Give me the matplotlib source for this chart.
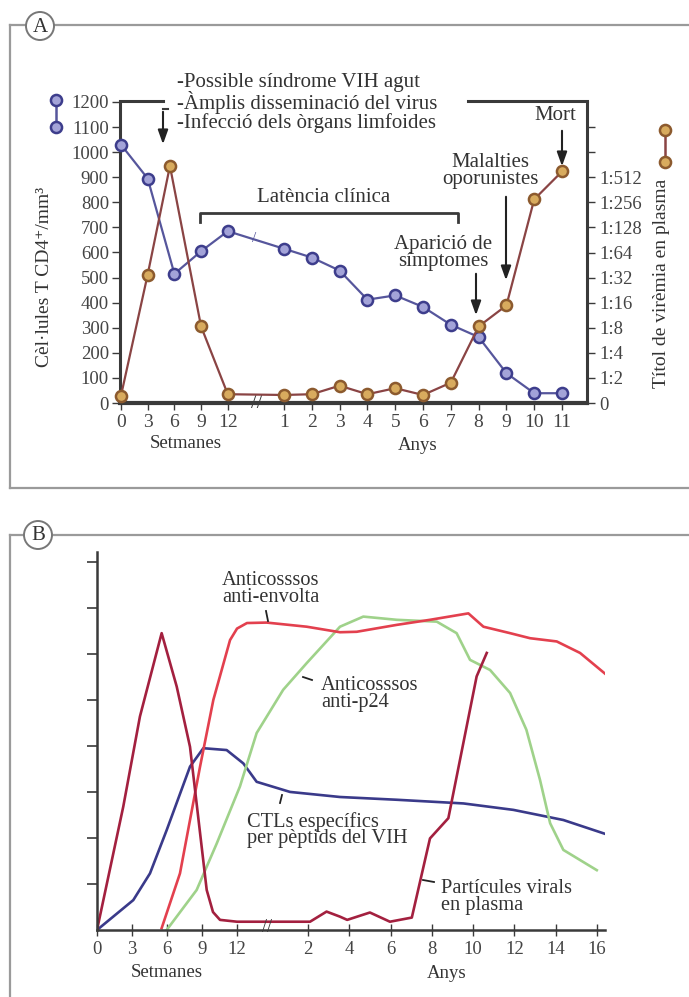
import numpy as np
import matplotlib
matplotlib.use('Agg')
import matplotlib.pyplot as plt
from matplotlib.lines import Line2D
from matplotlib.patches import Ellipse, FancyArrowPatch

plt.rcParams['font.family'] = ['Liberation Serif', 'DejaVu Serif']

# ---- Panel A data ----
a_weeks = [0, 3, 6, 9, 12]
a_years = [1, 2, 3, 4, 5, 6, 7, 8, 9, 10, 11]
cd4_weeks = [1030, 895, 515, 605, 685]
cd4_years = [615, 580, 528, 412, 429, 383, 312, 263, 119, 39, 39]
vir_weeks_x = [0, 3, 5.5, 9, 12]
vir_weeks = [0.29, 5.12, 9.45, 3.05, 0.35]          # log2 titre units
vir_years = [0.32, 0.35, 0.69, 0.35, 0.59, 0.32, 0.81, 3.05, 3.89, 8.12, 9.23]
cd4_ticks = list(range(0, 1201, 100))
vir_ticks = list(range(0, 12))
vir_labels = ['0', '1:2', '1:4', '1:8', '1:16', '1:32', '1:64', '1:128', '1:256', '1:512', '', '']

# ---- Panel B data (week part / year part) ----
b_week_ticks = [0, 3, 6, 9, 12]
b_year_ticks = [2, 4, 6, 8, 10, 12, 14, 16]
vir_b_w = [0, 2.25, 3.68, 5.54, 6.83, 7.97, 8.83, 9.4, 9.94, 10.54, 12]
vir_b_wv = [0, 2.68, 4.64, 6.45, 5.29, 3.98, 2.11, 0.87, 0.39, 0.22, 0.18]
vir_b_y = [0, 2.1, 2.9, 3.55, 3.9, 5.0, 5.97, 7.03, 7.91, 8.8, 10.17, 10.66]
vir_b_yv = [0.18, 0.18, 0.40, 0.29, 0.22, 0.38, 0.18, 0.27, 1.99, 2.43, 5.51, 6.02]
env_w = [5.54, 7.11, 8.83, 9.97, 11.4, 12.0, 12.85]
env_wv = [0.04, 1.23, 3.55, 5.0, 6.3, 6.55, 6.67]
env_y = [0, 1.94, 3.55, 4.36, 6.3, 7.91, 9.77, 10.5, 11.79, 12.76, 14.05, 15.18, 16.47]
env_yv = [6.68, 6.59, 6.47, 6.48, 6.63, 6.74, 6.88, 6.59, 6.45, 6.34, 6.27, 6.02, 5.54]
p24_w = [5.97, 8.54, 10.26, 12.25, 13.68]
p24_wv = [0, 0.87, 1.88, 3.12, 4.28]
p24_y = [0.8, 1.94, 3.55, 4.68, 6.3, 8.24, 9.2, 9.85, 10.82, 11.79, 12.58, 13.24, 13.73, 14.37, 15.99]
p24_yv = [5.22, 5.8, 6.59, 6.81, 6.74, 6.7, 6.45, 5.87, 5.65, 5.15, 4.35, 3.26, 2.32, 1.74, 1.30]
ctl_w = [0, 3.11, 4.54, 5.97, 7.97, 9.11, 11.11, 12.54, 13.68]
ctl_wv = [0, 0.65, 1.23, 2.17, 3.55, 3.95, 3.91, 3.62, 3.22]
ctl_y = [1.13, 3.55, 6.3, 9.53, 11.95, 14.37, 16.79]
ctl_yv = [3.0, 2.89, 2.83, 2.75, 2.61, 2.39, 2.03]

W, H = 689, 997


def P(px, py):
    return (px / W, 1 - py / H)


# x mapping: weeks stay as is, years are shifted after the break
def ax_a(years):
    return [15.19 + 3.124 * y for y in years]


def ax_b(years):
    return [14.54 + 1.769 * y for y in years]


fig = plt.figure(figsize=(W / 100, H / 100), dpi=100)

# ---- frames ----
grey = '#9a9a9a'
for (x0, y0, x1, y1) in [(10, 25, 689, 25), (10, 25, 10, 488), (10, 488, 689, 488),
                         (10, 535, 689, 535), (10, 535, 10, 997)]:
    fig.add_artist(Line2D([P(x0, y0)[0], P(x1, y1)[0]], [P(x0, y0)[1], P(x1, y1)[1]],
                          transform=fig.transFigure, color=grey, lw=1.6))
for lab, cx, cy in [('A', 40, 26), ('B', 38, 535)]:
    fig.add_artist(Ellipse(P(cx, cy), 28 / W, 28 / H, transform=fig.transFigure,
                           facecolor='white', edgecolor='#777777', lw=1.4, zorder=5))
    fig.text(*P(cx, cy + 1), lab, ha='center', va='center', fontsize=15, color='#333333', zorder=6)

# ================= Panel A =================
blue_line, blue_face, blue_edge = '#56569c', '#a3a3d8', '#3d3d8c'
or_line, or_face, or_edge = '#8a4444', '#d8ab5e', '#8c5a2e'
spine_c = '#3a3a3a'
lab_c = '#444444'

axA = fig.add_axes([120 / W, 1 - 403 / H, 467 / W, 301 / H])
axA.set_xlim(-0.11, 52.36)
axA.set_ylim(0, 1200)
axA.plot(a_weeks + ax_a(a_years), cd4_weeks + cd4_years, color=blue_line, lw=1.6,
         marker='o', ms=8, mfc=blue_face, mec=blue_edge, mew=1.8, zorder=4, clip_on=False)
axA.set_yticks(cd4_ticks)
axA.set_yticklabels([str(t) for t in cd4_ticks])
axA.set_xticks(a_weeks + ax_a(a_years))
axA.set_xticklabels([str(t) for t in a_weeks + a_years])
axA.spines['top'].set_visible(False)
axA.spines['right'].set_visible(False)
for s in ['left', 'bottom']:
    axA.spines[s].set_color(spine_c)
axA.spines['left'].set_linewidth(2.2)
axA.spines['bottom'].set_linewidth(3)
axA.tick_params(axis='y', direction='out', length=6, width=1, colors=spine_c,
                labelsize=13.5, labelcolor=lab_c, pad=2)
axA.tick_params(axis='x', direction='out', length=5, width=1, colors=spine_c,
                labelsize=14, labelcolor=lab_c, pad=3)
axA.patch.set_alpha(0)

axA2 = axA.twinx()
axA2.set_ylim(0, 12)
axA2.plot(vir_weeks_x + ax_a(a_years), vir_weeks + vir_years, color=or_line, lw=1.6,
          marker='o', ms=8, mfc=or_face, mec=or_edge, mew=1.8, zorder=3, clip_on=False)
axA2.set_yticks(vir_ticks)
axA2.set_yticklabels(vir_labels)
for s in ['top', 'left', 'bottom']:
    axA2.spines[s].set_visible(False)
axA2.spines['right'].set_color(spine_c)
axA2.spines['right'].set_linewidth(2.2)
axA2.tick_params(axis='y', direction='out', length=6, width=1, colors=spine_c,
                 labelsize=13.5, labelcolor=lab_c, pad=3)

# break marks
axA.text(15.2, 0, '//', ha='center', va='center', fontsize=15, color=spine_c, zorder=6)
axA.text(15.0, 655, '/', ha='center', va='center', fontsize=11, color=blue_line, zorder=6)

# top bracket lines
for (x0, x1) in [(120, 163), (468, 587)]:
    fig.add_artist(Line2D([x0 / W, x1 / W], [P(0, 101)[1]] * 2, transform=fig.transFigure,
                          color=spine_c, lw=2.2))
# latency bracket
fig.add_artist(Line2D([200 / W, 200 / W, 458 / W, 458 / W],
                      [P(0, 222)[1], P(0, 213)[1], P(0, 213)[1], P(0, 222)[1]],
                      transform=fig.transFigure, color=spine_c, lw=2))
fig.add_artist(Line2D([168 / W, 163 / W], [P(0, 109)[1]] * 2, transform=fig.transFigure,
                      color=spine_c, lw=1.5))


def arrow(x, y0, y1):
    fig.add_artist(FancyArrowPatch(P(x, y0), P(x, y1), transform=fig.transFigure,
                                   arrowstyle='-|>,head_length=0.7,head_width=0.25',
                                   mutation_scale=12, color='#222222', lw=1.5, zorder=7))


arrow(163, 109, 147)
arrow(476, 271, 318)
arrow(506, 194, 283)
arrow(562, 128, 169)

txt_c = '#333333'
fig.text(*P(177, 103), '-Possible síndrome VIH agut\n-Àmplis disseminació del virus\n-Infecció dels òrgans limfoides',
         ha='left', va='center', fontsize=15, color=txt_c, linespacing=0.95)
fig.text(*P(324, 197), 'Latència clínica', ha='center', va='center', fontsize=15, color=txt_c)
fig.text(*P(443, 253), 'Aparició de\nsímptomes', ha='center', va='center', fontsize=15,
         color=txt_c, linespacing=0.8)
fig.text(*P(490, 171), 'Malalties\noporunistes', ha='center', va='center', fontsize=15,
         color=txt_c, linespacing=0.8)
fig.text(*P(555, 115), 'Mort', ha='center', va='center', fontsize=15, color=txt_c)
fig.text(*P(186, 443), 'Setmanes', ha='center', va='center', fontsize=13.5, color=txt_c)
fig.text(*P(418, 445), 'Anys', ha='center', va='center', fontsize=13.5, color=txt_c)
fig.text(*P(45, 277), 'Cèl·lules T CD4⁺/mm³', ha='center', va='center', rotation=90,
         fontsize=14, color=txt_c)
fig.text(*P(662, 283), 'Títol de virèmia en plasma', ha='center', va='center', rotation=90,
         fontsize=14, color=txt_c)

# legend dumbbells
for (x, y0, y1, lc, fc, ec) in [(56, 100, 127, blue_line, blue_face, blue_edge),
                                (665, 130, 162, or_line, or_face, or_edge)]:
    fig.add_artist(Line2D([x / W, x / W], [P(0, y0)[1], P(0, y1)[1]], transform=fig.transFigure,
                          color=lc, lw=1.8, marker='o', ms=8, mfc=fc, mec=ec, mew=1.8))

# ================= Panel B =================
axB = fig.add_axes([97 / W, 1 - 930 / H, 508 / W, 378.3 / H])
axB.set_xlim(0, 43.53)
axB.set_ylim(0, 8.22)
lw_b = 1.9
axB.plot(ctl_w + ax_b(ctl_y), ctl_wv + ctl_yv, color='#3a3a8a', lw=lw_b)
axB.plot(p24_w + ax_b(p24_y), p24_wv + p24_yv, color='#9fd28a', lw=lw_b)
axB.plot(env_w + ax_b(env_y), env_wv + env_yv, color='#e3404e', lw=lw_b)
axB.plot(vir_b_w + ax_b(vir_b_y), vir_b_wv + vir_b_yv, color='#a3203f', lw=lw_b)
axB.set_yticks(range(1, 9))
axB.set_yticklabels([])
axB.set_xticks(b_week_ticks + ax_b(b_year_ticks))
axB.set_xticklabels([str(t) for t in b_week_ticks + b_year_ticks])
axB.spines['top'].set_visible(False)
axB.spines['right'].set_visible(False)
for s in ['left', 'bottom']:
    axB.spines[s].set_color(spine_c)
    axB.spines[s].set_linewidth(1.8)
axB.tick_params(axis='y', direction='out', length=7, width=1.2, colors=spine_c)
axB.tick_params(axis='x', direction='inout', length=8, width=1, colors=spine_c,
                labelsize=13.5, labelcolor=lab_c, pad=4)
axB.patch.set_alpha(0)
axB.text(14.54, 0.05, '//', ha='center', va='center', fontsize=13, color=spine_c)

for (x0, y0, x1, y1) in [(266, 611, 268, 621), (303, 677, 312, 680),
                         (282, 795, 280, 803), (423, 880, 434, 882)]:
    fig.add_artist(Line2D([x0 / W, x1 / W], [P(0, y0)[1], P(0, y1)[1]],
                          transform=fig.transFigure, color='#222222', lw=1.3))

fig.text(*P(222, 589), 'Anticosssos\nanti-envolta', ha='left', va='center', fontsize=14.7,
         color=txt_c, linespacing=0.8)
fig.text(*P(321, 694), 'Anticosssos\nanti-p24', ha='left', va='center', fontsize=14.7,
         color=txt_c, linespacing=0.8)
fig.text(*P(247, 830), 'CTLs específics\nper pèptids del VIH', ha='left', va='center',
         fontsize=14.7, color=txt_c, linespacing=0.8)
fig.text(*P(441, 897), 'Partícules virals\nen plasma', ha='left', va='center', fontsize=14.7,
         color=txt_c, linespacing=0.8)
fig.text(*P(167, 972), 'Setmanes', ha='center', va='center', fontsize=13.5, color=txt_c)
fig.text(*P(447, 973), 'Anys', ha='center', va='center', fontsize=13.5, color=txt_c)

fig.savefig('out.png', dpi=100)
